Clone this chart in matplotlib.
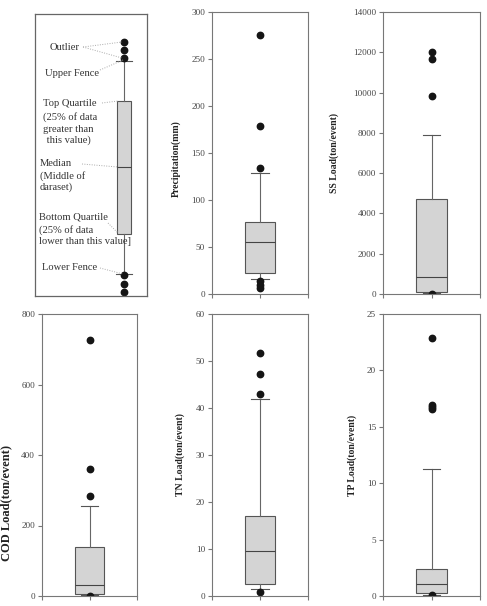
import matplotlib
matplotlib.use('Agg')
import matplotlib.pyplot as plt

plt.rcParams['font.family'] = ['Liberation Serif', 'DejaVu Serif']

# box statistics: (whislo, q1, med, q3, whishi)
precip_stats = [16, 22, 55, 77, 129]
precip_fliers = [276, 179, 134, 13.5, 10, 6.5]
ss_stats = [30, 100, 820, 4700, 7900]
ss_fliers = [12030, 11680, 9830, 5]
cod_stats = [2, 6, 32, 138, 254]
cod_fliers = [726, 359, 284, 0.5]
tn_stats = [1.4, 2.6, 9.6, 17.0, 41.9]
tn_fliers = [51.8, 47.3, 43.0, 0.85]
tp_stats = [0.1, 0.27, 1.04, 2.43, 11.3]
tp_fliers = [22.9, 16.9, 16.75, 16.6, 0.05]

labels = ["Precipitation(mm)", "SS Load(ton/event)", "COD Load(ton/event)",
          "TN Load(ton/event)", "TP Load(ton/event)"]
y_max = [300, 14000, 800, 60, 25]
y_step = [50, 2000, 200, 10, 5]

# schematic panel, arbitrary units
demo_stats = [22, 62, 129, 195, 235]
demo_fliers = [254, 246, 238, 21, 12, 4]

W, H = 487, 606
fig = plt.figure(figsize=(W / 100, H / 100), dpi=100)


def px_axes(left, right, top, bottom):
    return fig.add_axes([left / W, (H - bottom) / H, (right - left) / W, (bottom - top) / H])


def stats_dict(s, fliers):
    return dict(whislo=s[0], q1=s[1], med=s[2], q3=s[3], whishi=s[4], fliers=fliers)


box_kw = dict(
    patch_artist=True,
    boxprops=dict(facecolor='#d4d4d4', edgecolor='#555555', linewidth=0.8),
    medianprops=dict(color='#444444', linewidth=0.8),
    whiskerprops=dict(color='#666666', linewidth=0.8),
    capprops=dict(color='#555555', linewidth=0.8),
    flierprops=dict(marker='o', markerfacecolor='#151515', markeredgecolor='#151515',
                    markersize=4.6),
)


def data_panel(rect, stats, fliers, label, ymax, step, label_xy, label_size=7):
    ax = px_axes(*rect)
    ax.bxp([stats_dict(stats, fliers)], positions=[1], widths=0.62, capwidths=0.36, **box_kw)
    ax.set_xlim(0, 2)
    ax.set_ylim(0, ymax)
    ax.set_xticks([0, 1, 2])
    ax.set_xticklabels([])
    ax.set_yticks(range(0, ymax + 1, step))
    for s in ax.spines.values():
        s.set_color('#777777')
        s.set_linewidth(0.8)
    ax.tick_params(direction='out', length=3, width=0.8, color='#777777',
                   labelsize=6.6, labelcolor='#444444', pad=2)
    ax.set_ylabel(label, fontsize=label_size, fontweight='bold', color='#222222')
    ax.yaxis.set_label_coords(*label_xy)
    return ax


data_panel((212, 308, 12, 294), precip_stats, precip_fliers, labels[0], y_max[0], y_step[0], (-0.32, 0.48))
data_panel((383, 480, 12, 294), ss_stats, ss_fliers, labels[1], y_max[1], y_step[1], (-0.45, 0.5))
data_panel((42, 137, 314, 596), cod_stats, cod_fliers, labels[2], y_max[2], y_step[2], (-0.31, 0.33), 9)
data_panel((212, 308, 314, 596), tn_stats, tn_fliers, labels[3], y_max[3], y_step[3], (-0.28, 0.5))
data_panel((383, 480, 314, 596), tp_stats, tp_fliers, labels[4], y_max[4], y_step[4], (-0.27, 0.5))

# schematic explaining the box parts
ax = px_axes(35, 147, 14, 296)
ax.set_xlim(0, 112)
ax.set_ylim(0, 282)
ax.bxp([stats_dict(demo_stats, demo_fliers)], positions=[89], widths=14, capwidths=16, **box_kw)
ax.set_xticks([])
ax.set_yticks([])
for s in ax.spines.values():
    s.set_color('#666666')
    s.set_linewidth(0.9)

notes = [
    ("Outlier", 15, 249), ("Upper Fence", 10, 223),
    ("Top Quartile", 8, 192), ("(25% of data", 8, 179), ("greater than", 8, 167), (" this value)", 9, 156),
    ("Median", 5, 133), ("(Middle of", 5, 120), ("daraset)", 5, 109),
    ("Bottom Quartile", 4, 79), ("(25% of data", 4, 66), ("lower than this value]", 4, 55),
    ("Lower Fence", 7, 29),
]
for txt, x, y in notes:
    ax.text(x, y, txt, fontsize=7.6, color='#333333', va='center', ha='left')

leaders = [
    ((48, 249), (87, 254)), ((48, 249), (87, 238)),
    ((65, 226), (88, 236)),
    ((67, 193), (83, 195)),
    ((47, 132), (83, 129)),
    ((73, 73), (83, 63)),
    ((65, 28), (88, 22)),
]
for (x0, y0), (x1, y1) in leaders:
    ax.plot([x0, x1], [y0, y1], linestyle=(0, (1, 1.5)), color='#aaaaaa', linewidth=0.7)

fig.savefig("out.png", dpi=100)
